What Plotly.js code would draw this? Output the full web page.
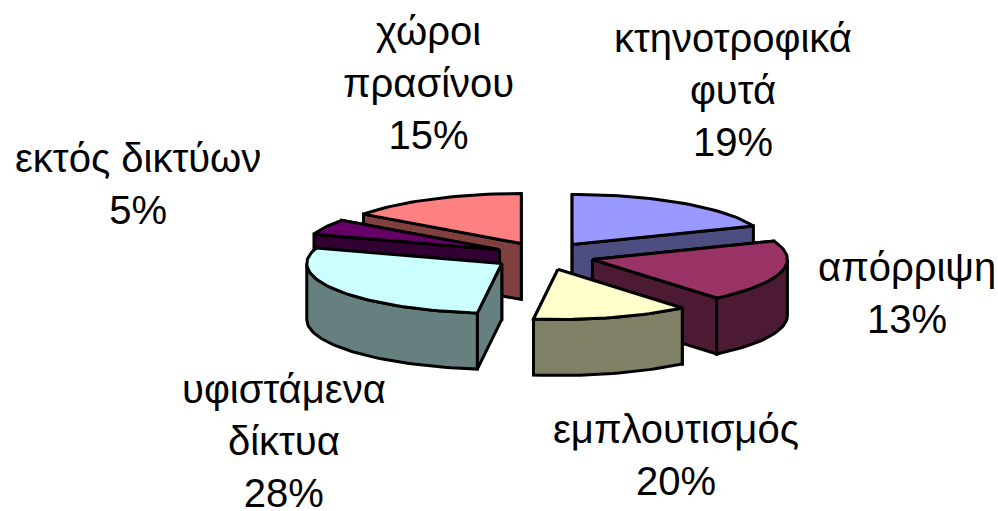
<!DOCTYPE html>
<html><head><meta charset="utf-8">
<script src="https://cdn.plot.ly/plotly-3.0.1.min.js"></script>
<style>html,body{margin:0;padding:0;background:#fff}</style></head>
<body><div id="c" style="width:998px;height:511px"></div>
<script>
const categories=["κτηνοτροφικά<br>φυτά","απόρριψη","εμπλουτισμός","υφιστάμενα<br>δίκτυα","εκτός δικτύων","χώροι<br>πρασίνου"];
const labelPercent=[19,13,20,28,5,15];
const drawnShare=[19,20,13,28,5,15];
const topColors=["#9999FF","#993366","#FFFFCC","#CCFFFF","#660066","#FF8080"];
const sideColors=["#4D4D80","#4D1A33","#808066","#668080","#330033","#804040"];
const labelX=[733,907,676,284,138,428];
const labelY=[90,293,455,441,184,83];
const paintOrder=[5,0,4,3,1,2];
const cx=544,cy=256,rx=195,ry=50,depth=56,explodeX=50,explodeY=14;
const rad=d=>d*Math.PI/180;
let acc=0;const wedges=drawnShare.map((v,i)=>{const a=acc*3.6;acc+=v;const b=acc*3.6;const m=rad((a+b)/2);
  return {i,a,b,mid:(a+b)/2,ox:cx+explodeX*Math.sin(m),oy:cy-explodeY*Math.cos(m)};});
function pt(w,t,dz){return [w.ox+rx*Math.sin(rad(t)),w.oy-ry*Math.cos(rad(t))+(dz||0)];}
function poly(points,fill){return {type:'scatter',mode:'lines',x:points.map(p=>p[0]),y:points.map(p=>p[1]),
  fill:'toself',fillcolor:fill,line:{color:'#000',width:3,shape:'linear'},hoverinfo:'skip',showlegend:false};}
function arc(w,a,b,dz){const out=[];const n=Math.max(2,Math.ceil(Math.abs(b-a)/2));for(let k=0;k<=n;k++)out.push(pt(w,a+(b-a)*k/n,dz));return out;}
const traces=[];
paintOrder.forEach(idx=>{const w=wedges[idx],side=sideColors[idx],top=topColors[idx];
  const A=[w.ox,w.oy];
  const cutOrder=w.mid>180?[w.b,w.a]:[w.a,w.b];
  cutOrder.forEach(t=>{const p=pt(w,t);traces.push(poly([A,p,[p[0],p[1]+depth],[A[0],A[1]+depth],A],side));});
  const fa=Math.max(w.a,90),fb=Math.min(w.b,270);
  if(fb>fa){const up=arc(w,fa,fb,0),dn=arc(w,fb,fa,depth);traces.push(poly(up.concat(dn,[up[0]]),side));}
  traces.push(poly([A].concat(arc(w,w.a,w.b,0),[A]),top));
});
const annotations=categories.map((c,i)=>({xref:'x',yref:'y',x:labelX[i],y:labelY[i],text:c+'<br>'+labelPercent[i]+'%',
  showarrow:false,align:'center',xanchor:'center',yanchor:'middle',font:{family:'Liberation Sans, Arial, sans-serif',size:40,color:'#000'}}));
Plotly.newPlot('c',traces,{width:998,height:511,margin:{l:0,r:0,t:0,b:0},paper_bgcolor:'#fff',plot_bgcolor:'#fff',showlegend:false,
  xaxis:{range:[0,998],visible:false,fixedrange:true},yaxis:{range:[511,0],visible:false,fixedrange:true},annotations},{displayModeBar:false,staticPlot:true});
</script></body></html>
